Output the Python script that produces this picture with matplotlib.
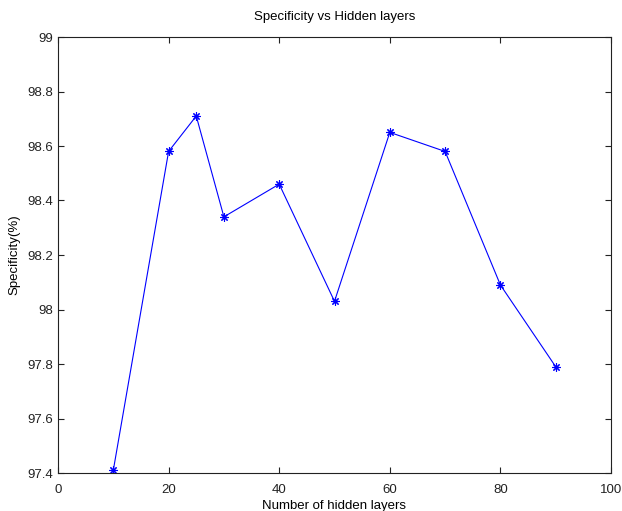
import matplotlib
matplotlib.use("Agg")
import matplotlib.pyplot as plt

# hidden layers vs specificity
hidden_layers = [10, 20, 25, 30, 40, 50, 60, 70, 80, 90]
specificity = [97.41, 98.58, 98.71, 98.34, 98.46, 98.03, 98.65, 98.58, 98.09, 97.79]

x_ticks = [0, 20, 40, 60, 80, 100]
y_ticks = [97.4, 97.6, 97.8, 98, 98.2, 98.4, 98.6, 98.8, 99]
y_tick_labels = ["97.4", "97.6", "97.8", "98", "98.2", "98.4", "98.6", "98.8", "99"]

plt.rcParams['font.family'] = ['Liberation Sans', 'DejaVu Sans']

fig = plt.figure(figsize=(6.22, 5.11), dpi=100)
ax = fig.add_axes([58 / 622, 38 / 511, (611 - 58) / 622, (473 - 37) / 511])

# octave style asterisk marker (8 arms)
ax.plot(hidden_layers, specificity, color='blue', lw=0.8, marker=(8, 2, 0),
        markersize=6, markeredgewidth=0.8)

ax.set_xlim(0, 100)
ax.set_ylim(97.4, 99)
ax.set_xticks(x_ticks)
ax.set_yticks(y_ticks)
ax.set_yticklabels(y_tick_labels)
ax.tick_params(direction='in', top=True, right=True, length=4, width=0.8,
               labelsize=9.5, colors='#222222')
ax.tick_params(axis='x', pad=8)
for s in ax.spines.values():
    s.set_linewidth(0.8)
    s.set_color('#222222')

ax.set_title("Specificity vs Hidden layers", fontsize=9.5, pad=12)
ax.set_xlabel("Number of hidden layers", fontsize=9.5, labelpad=3)
ax.set_ylabel("Specificity(%)", fontsize=9.5, labelpad=5)

fig.savefig("out.png", dpi=100)
